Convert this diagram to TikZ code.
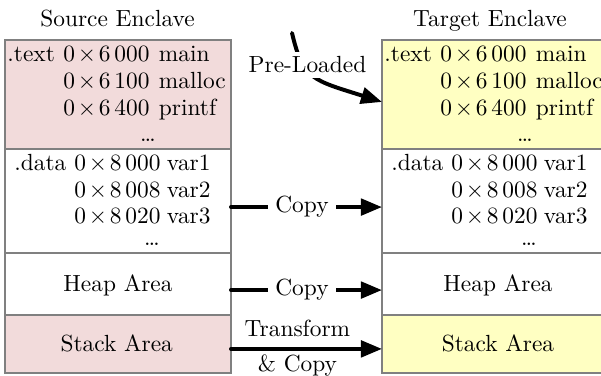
\documentclass[tikz,border=0pt]{standalone}
\usetikzlibrary{arrows.meta}
\definecolor{srcpink}{RGB}{242,219,219}
\definecolor{tgtyellow}{RGB}{255,255,194}
\definecolor{cellline}{RGB}{128,128,128}
% address such as 0x6 000
\newcommand\memaddr[2]{0\kern1.2pt$\times$\kern1.2pt#1\,#2}
\tikzset{
  cell/.style={draw=cellline, line width=0.9pt, inner sep=0pt, outer sep=0pt},
  flow/.style={line width=1.7pt, line cap=round, -{Triangle[length=9pt,width=7pt]}},
  flowlabel/.style={fill=white},
  lbl/.style={inner sep=0pt},
}
\begin{document}
\begin{tikzpicture}[x=0.428pt, y=-0.428pt]
\useasboundingbox (0,0) rectangle (601,376);

% memory layout of the source enclave
\node[cell, fill=srcpink,  minimum width=96.73pt, minimum height=46.65pt] (srcText)  at (118,94.5) {};
\node[cell, fill=white,    minimum width=96.73pt, minimum height=44.51pt] (srcData)  at (118,201)  {};
\node[cell, fill=white,    minimum width=96.73pt, minimum height=26.54pt] (srcHeap)  at (118,284)  {};
\node[cell, fill=srcpink,  minimum width=96.73pt, minimum height=24.82pt] (srcStack) at (118,344)  {};

% memory layout of the target enclave
\node[cell, fill=tgtyellow, minimum width=98.44pt, minimum height=46.65pt] (tgtText)  at (497,94.5) {};
\node[cell, fill=white,     minimum width=98.44pt, minimum height=44.51pt] (tgtData)  at (497,201)  {};
\node[cell, fill=white,     minimum width=98.44pt, minimum height=26.54pt] (tgtHeap)  at (497,284)  {};
\node[cell, fill=tgtyellow, minimum width=98.44pt, minimum height=24.82pt] (tgtStack) at (497,344)  {};

% titles
\node[lbl, anchor=base] (srcTitle) at (117.5,27) {Source Enclave};
\node[lbl, anchor=base] (tgtTitle) at (490,27) {Target Enclave};

% section contents, identical in both enclaves
\foreach \side/\dx in {s/0, t/377} {
  % .text section
  \node[lbl, anchor=base west] (\side txSec) at (7+\dx,62)   {.text};
  \node[lbl, anchor=base east] (\side txA1)  at (150+\dx,62)  {\memaddr{6}{000}};
  \node[lbl, anchor=base east] (\side txA2)  at (150+\dx,89)  {\memaddr{6}{100}};
  \node[lbl, anchor=base east] (\side txA3)  at (150+\dx,116) {\memaddr{6}{400}};
  \node[lbl, anchor=base west] (\side txN1)  at (158.5+\dx,62)  {main};
  \node[lbl, anchor=base west] (\side txN2)  at (158.5+\dx,89)  {malloc};
  \node[lbl, anchor=base west] (\side txN3)  at (158.5+\dx,116) {printf};
  \node[lbl, anchor=base]      (\side txDots) at (148+\dx,142) {\dots};
  % .data section
  \node[lbl, anchor=base west] (\side daSec) at (14+\dx,171)  {.data};
  \node[lbl, anchor=base east] (\side daA1)  at (161+\dx,171) {\memaddr{8}{000}};
  \node[lbl, anchor=base east] (\side daA2)  at (161+\dx,198) {\memaddr{8}{008}};
  \node[lbl, anchor=base east] (\side daA3)  at (161+\dx,224) {\memaddr{8}{020}};
  \node[lbl, anchor=base west] (\side daN1)  at (166.5+\dx,171) {var1};
  \node[lbl, anchor=base west] (\side daN2)  at (166.5+\dx,198) {var2};
  \node[lbl, anchor=base west] (\side daN3)  at (166.5+\dx,224) {var3};
  \node[lbl, anchor=base]      (\side daDots) at (152+\dx,246) {\dots};
}

% heap and stack
\node[lbl, anchor=base] (srcHeapLbl)  at (118,292)   {Heap Area};
\node[lbl, anchor=base] (srcStackLbl) at (116.7,352) {Stack Area};
\node[lbl, anchor=base] (tgtHeapLbl)  at (498,292)   {Heap Area};
\node[lbl, anchor=base] (tgtStackLbl) at (498,352)   {Stack Area};

% code is pre-loaded into the target
\coordinate (plStart) at (292,33);
\draw[flow] (plStart) .. controls (303,80) and (313,80) .. ([yshift=-3.2pt]tgtText.west);
\node[flowlabel, anchor=base, inner ysep=2pt] (plLabel) at (307.5,73) {Pre-Loaded};

% data, heap and stack transfer
\draw[flow] ([yshift=-2.6pt]srcData.east) -- node[flowlabel, pos=0.47] (cpData) {Copy} ([yshift=-2.6pt]tgtData.west);
\draw[flow] ([yshift=-2.6pt]srcHeap.east) -- node[flowlabel, pos=0.47] (cpHeap) {Copy} ([yshift=-2.6pt]tgtHeap.west);
\draw[flow] ([yshift=-2.1pt]srcStack.east) --
  node[lbl, pos=0.44, anchor=base, yshift=5.1pt] (tfStack) {Transform}
  node[lbl, pos=0.44, anchor=base, yshift=-9.8pt] (cpStack) {\& Copy}
  ([yshift=-2.1pt]tgtStack.west);
\end{tikzpicture}
\end{document}
